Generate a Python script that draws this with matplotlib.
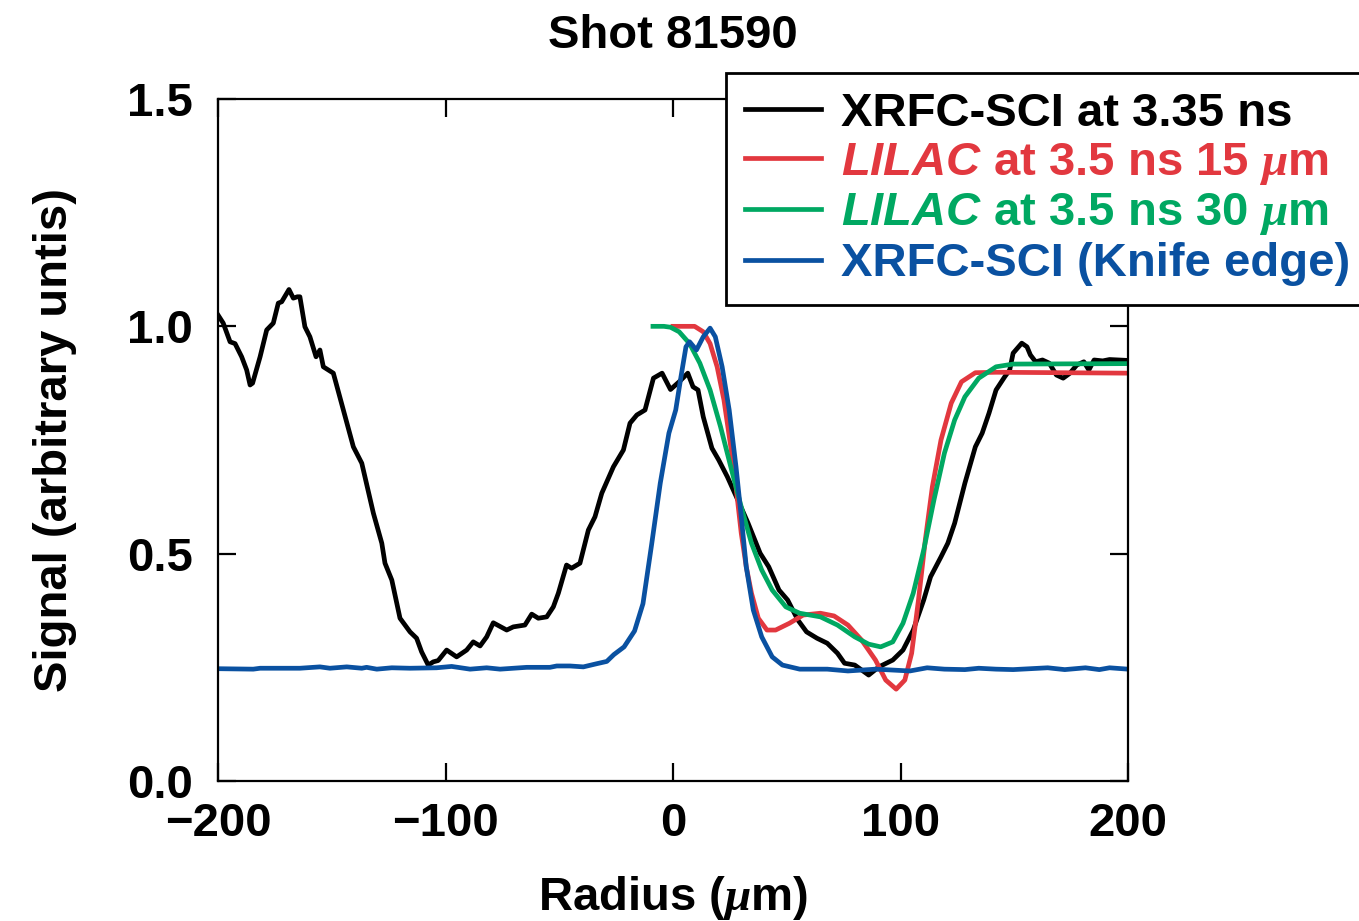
import matplotlib
matplotlib.use('Agg')
import matplotlib.pyplot as plt

plt.rcParams['font.family'] = ['Liberation Sans', 'DejaVu Sans']
plt.rcParams['font.weight'] = 'bold'
plt.rcParams['mathtext.fontset'] = 'custom'
plt.rcParams['mathtext.it'] = 'Liberation Serif:italic'
plt.rcParams['mathtext.bf'] = 'Liberation Sans:italic:bold'

# XRFC-SCI at 3.35 ns
x_xrfc = [-200, -197.7, -194.7, -192.5, -189.6, -187.4, -185.9, -184.8, -181.5, -178.6,
          -175.7, -173.5, -172.0, -168.8, -166.9, -165.1, -164.0, -161.8, -159.6, -156.9,
          -155.2, -153.7, -149.3, -144.9, -140.5, -136.8, -131.7, -128.0, -126.6, -123.6,
          -120.0, -115.6, -112.7, -110.5, -107.6, -105.4, -103.2, -99.5, -95.1, -90.7,
          -87.8, -84.8, -81.9, -79.0, -73.1, -70.2, -65.1, -62.1, -59.2, -55.5,
          -52.6, -50.4, -46.8, -44.6, -40.9, -37.2, -34.3, -31.3, -26.2, -21.8,
          -18.9, -15.9, -12.3, -8.6, -4.8, -1.1, 2.7, 6.5, 8.8, 11.0,
          13.3, 17.1, 20.1, 23.9, 28.5, 33.0, 38.3, 42.1, 46.6, 50.4,
          54.9, 58.7, 63.3, 67.8, 72.3, 75.4, 79.9, 86.0, 90.5, 96.6,
          101.1, 105.6, 110.2, 113.2, 117.8, 120.8, 123.8, 128.3, 132.9, 135.9,
          138.9, 142.0, 145.8, 148.0, 149.5, 153.3, 155.6, 157.1, 159.4, 162.4,
          165.4, 168.5, 171.5, 174.5, 177.5, 180.6, 182.8, 185.1, 188.9, 191.9, 200]
y_xrfc = [1.025, 1.007, 0.966, 0.962, 0.933, 0.904, 0.871, 0.875, 0.933, 0.992,
          1.007, 1.051, 1.054, 1.081, 1.062, 1.065, 1.065, 0.999, 0.977, 0.933,
          0.948, 0.911, 0.897, 0.816, 0.735, 0.699, 0.589, 0.523, 0.479, 0.442,
          0.358, 0.328, 0.314, 0.284, 0.255, 0.262, 0.265, 0.288, 0.273, 0.288,
          0.306, 0.297, 0.317, 0.348, 0.332, 0.339, 0.343, 0.367, 0.358, 0.361,
          0.383, 0.413, 0.475, 0.468, 0.479, 0.552, 0.581, 0.633, 0.691, 0.728,
          0.787, 0.805, 0.816, 0.886, 0.897, 0.861, 0.878, 0.897, 0.867, 0.860,
          0.801, 0.732, 0.706, 0.669, 0.618, 0.567, 0.501, 0.471, 0.420, 0.398,
          0.354, 0.328, 0.314, 0.303, 0.281, 0.259, 0.255, 0.233, 0.251, 0.266,
          0.288, 0.332, 0.398, 0.449, 0.493, 0.523, 0.567, 0.655, 0.735, 0.765,
          0.809, 0.860, 0.889, 0.904, 0.941, 0.963, 0.955, 0.937, 0.922, 0.926,
          0.919, 0.893, 0.886, 0.897, 0.915, 0.922, 0.904, 0.926, 0.924, 0.927, 0.925]

# LILAC 15 um
x_lilac15 = [0.0, 4.0, 9.5, 13.3, 16.3, 19.4, 22.4, 25.4, 27.7, 30.0, 32.2, 34.5, 37.5,
             41.3, 45.1, 51.2, 57.2, 64.8, 70.8, 76.9, 82.9, 89.0, 93.5, 98.1, 101.9,
             104.9, 107.9, 110.9, 114.0, 117.8, 122.3, 126.8, 132.9, 142.0, 200]
y_lilac15 = [1.0, 1.0, 1.0, 0.988, 0.962, 0.911, 0.838, 0.735, 0.647, 0.545, 0.471, 0.413, 0.358,
             0.332, 0.332, 0.347, 0.365, 0.369, 0.363, 0.343, 0.310, 0.266, 0.222, 0.202, 0.222,
             0.281, 0.398, 0.530, 0.647, 0.750, 0.831, 0.878, 0.898, 0.899, 0.897]

# LILAC 30 um
x_lilac30 = [-8.8, -4.0, -1.1, 2.7, 7.3, 11.8, 16.3, 20.9, 25.4, 30.0, 34.5, 39.0, 43.6,
             49.6, 55.7, 64.8, 72.3, 79.9, 86.0, 91.3, 96.6, 101.1, 105.6, 110.2, 114.7,
             119.3, 123.8, 128.3, 134.4, 142.0, 149.5, 200]
y_lilac30 = [1.0, 1.0, 0.998, 0.988, 0.962, 0.919, 0.860, 0.779, 0.691, 0.603, 0.523, 0.464, 0.420,
             0.383, 0.369, 0.361, 0.343, 0.317, 0.301, 0.295, 0.306, 0.347, 0.413, 0.508, 0.618,
             0.721, 0.794, 0.845, 0.886, 0.911, 0.917, 0.918]

# XRFC-SCI knife edge
x_knife = [-200, -184.5, -181.5, -164.0, -155.2, -150.8, -143.4, -136.8, -134.7, -130.2,
           -123.6, -115.6, -103.9, -97.3, -89.2, -81.9, -76.0, -64.3, -54.1, -51.1,
           -45.3, -39.4, -33.5, -29.1, -26.0, -21.5, -16.9, -13.2, -9.4, -5.6,
           -1.8, 1.2, 3.5, 5.7, 7.3, 10.3, 13.3, 16.3, 18.6, 21.6,
           24.7, 27.7, 30.0, 32.2, 35.3, 39.0, 43.6, 48.1, 55.7, 67.8,
           76.9, 89.0, 104.1, 111.7, 119.3, 128.3, 134.4, 142.0, 149.5, 164.7,
           172.2, 181.3, 187.4, 191.9, 200]
y_knife = [0.247, 0.246, 0.248, 0.248, 0.251, 0.248, 0.251, 0.248, 0.250, 0.246,
           0.249, 0.248, 0.249, 0.252, 0.246, 0.249, 0.246, 0.250, 0.250, 0.253,
           0.253, 0.251, 0.258, 0.263, 0.278, 0.295, 0.330, 0.390, 0.520, 0.655,
           0.765, 0.816, 0.889, 0.955, 0.966, 0.948, 0.977, 0.996, 0.977, 0.911,
           0.816, 0.691, 0.581, 0.471, 0.376, 0.317, 0.273, 0.255, 0.246, 0.246,
           0.242, 0.246, 0.242, 0.249, 0.246, 0.245, 0.248, 0.246, 0.245, 0.249,
           0.245, 0.249, 0.245, 0.249, 0.246]

xticks = [-200, -100, 0, 100, 200]
yticks = [0.0, 0.5, 1.0, 1.5]
xtick_labels = ['\u2212200', '\u2212100', '0', '100', '200']
ytick_labels = ['0.0', '0.5', '1.0', '1.5']

red = '#E2383F'
green = '#00A862'
blue = '#0A51A1'

fig = plt.figure(figsize=(13.59, 9.21), dpi=100)
ax = fig.add_axes([218/1359, 140/921, 910/1359, 682/921])

ax.plot(x_xrfc, y_xrfc, color='black', lw=3.4, label='XRFC-SCI at 3.35 ns')
ax.plot(x_lilac15, y_lilac15, color=red, lw=3.4, label=r'$\mathbf{LILAC}$ at 3.5 ns 15 $\mu$m')
ax.plot(x_lilac30, y_lilac30, color=green, lw=3.4, label=r'$\mathbf{LILAC}$ at 3.5 ns 30 $\mu$m')
ax.plot(x_knife, y_knife, color=blue, lw=3.4, label='XRFC-SCI (Knife edge)')

ax.set_xlim(-200, 200)
ax.set_ylim(0, 1.5)
ax.set_xticks(xticks)
ax.set_xticklabels(xtick_labels)
ax.set_yticks(yticks)
ax.set_yticklabels(ytick_labels)
ax.tick_params(direction='in', length=13, width=1.6, top=True, right=True, labelsize=34)
ax.tick_params(axis='x', pad=15)
ax.tick_params(axis='y', pad=18)
for s in ax.spines.values():
    s.set_linewidth(1.6)

ax.set_title('Shot 81590', fontsize=34, fontweight='bold', pad=37)
ax.set_xlabel(r'Radius ($\mu$m)', fontsize=34, fontweight='bold', labelpad=20)
ax.set_ylabel('Signal (arbitrary untis)', fontsize=34, fontweight='bold', labelpad=36)

leg = fig.legend(loc='upper left', bbox_to_anchor=(726/1359, 1 - 73/921),
                 bbox_transform=fig.transFigure, borderaxespad=0,
                 fontsize=34, frameon=True, fancybox=False, framealpha=1,
                 edgecolor='black', handlelength=1.62, handletextpad=0.42,
                 borderpad=0.4, labelspacing=0.1, labelcolor='linecolor')
leg.get_frame().set_linewidth(2)
for t in leg.get_texts():
    t.set_fontweight('bold')

fig.savefig('out.png', dpi=100)
